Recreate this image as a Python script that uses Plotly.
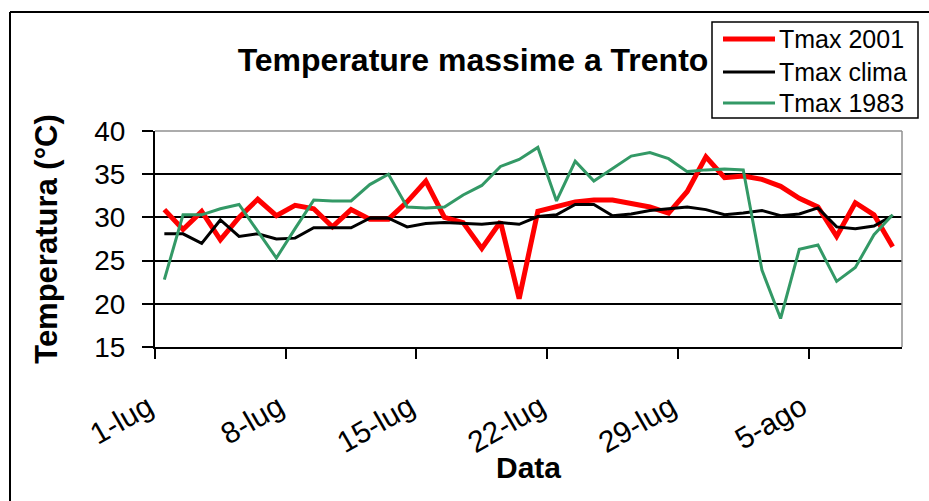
import plotly.graph_objects as go
import pandas as pd

dates = pd.date_range("2001-07-01", "2001-08-09", freq="D")

tmax_2001 = [30.9, 28.6, 30.7, 27.4, 30.0, 32.1, 30.2, 31.4, 31.0, 28.9,
             30.9, 29.8, 29.8, 31.8, 34.2, 30.0, 29.4, 26.4, 29.5, 20.6,
             30.7, 31.2, 31.8, 32.0, 32.0, 31.6, 31.2, 30.5, 33.0, 37.0,
             34.6, 34.8, 34.4, 33.6, 32.2, 31.2, 27.8, 31.7, 30.3, 26.6]
tmax_clima = [28.1, 28.1, 27.0, 29.7, 27.8, 28.1, 27.5, 27.6, 28.8, 28.8,
              28.8, 29.9, 29.9, 28.9, 29.3, 29.4, 29.3, 29.2, 29.4, 29.2,
              30.1, 30.3, 31.5, 31.5, 30.2, 30.4, 30.8, 31.0, 31.2, 30.9,
              30.3, 30.5, 30.8, 30.2, 30.4, 31.1, 28.9, 28.7, 29.0, 30.2]
tmax_1983 = [22.8, 30.3, 30.3, 31.0, 31.5, 28.4, 25.3, 28.7, 32.0, 31.9,
             31.9, 33.8, 35.0, 31.2, 31.1, 31.2, 32.6, 33.7, 35.9, 36.7,
             38.1, 31.9, 36.5, 34.2, 35.6, 37.1, 37.5, 36.8, 35.3, 35.5,
             35.6, 35.5, 23.9, 18.3, 26.3, 26.8, 22.6, 24.2, 28.0, 30.3]

series_names = ["Tmax 2001", "Tmax clima", "Tmax 1983"]
series_colors = ["#FF0000", "#000000", "#339966"]
series_widths = [5, 3, 3]

tick_dates = ["2001-07-01", "2001-07-08", "2001-07-15", "2001-07-22", "2001-07-29", "2001-08-05"]
tick_labels = ["1-lug", "8-lug", "15-lug", "22-lug", "29-lug", "5-ago"]

FONT = "Liberation Sans, Arial, sans-serif"
half = pd.Timedelta(hours=12)

L, R, T, B = 155, 27, 131, 154
W, H = 929, 501
pw, ph = W - L - R, H - T - B

def px_x(p):
    return (p - L) / pw

def px_y(p):
    return (H - B - p) / ph

fig = go.Figure()
for name, vals, col, lw in zip(series_names, [tmax_2001, tmax_clima, tmax_1983],
                               series_colors, series_widths):
    fig.add_trace(go.Scatter(x=dates, y=vals, mode="lines", name=name,
                             line=dict(color=col, width=lw), showlegend=False))

# legend box drawn as shapes + text (Excel-style layout)
shapes = [
    dict(type="line", xref="paper", yref="paper", x0=0, x1=1, y0=1, y1=1,
         line=dict(color="#909090", width=1.5)),
    dict(type="line", xref="paper", yref="paper", x0=1, x1=1, y0=0, y1=1,
         line=dict(color="#909090", width=1.5)),
    dict(type="line", xref="paper", yref="paper", x0=px_x(10), x1=px_x(10),
         y0=px_y(12), y1=px_y(520), line=dict(color="black", width=2)),
    dict(type="line", xref="paper", yref="paper", x0=px_x(10), x1=px_x(940),
         y0=px_y(12), y1=px_y(12), line=dict(color="black", width=2)),
    dict(type="rect", xref="paper", yref="paper", x0=px_x(712), x1=px_x(918),
         y0=px_y(118), y1=px_y(22), fillcolor="white",
         line=dict(color="black", width=1.5)),
]
annotations = []
row_y = [39, 72, 103]
for name, col, lw, ry in zip(series_names, series_colors, series_widths, row_y):
    shapes.append(dict(type="line", xref="paper", yref="paper", x0=px_x(723), x1=px_x(775),
                       y0=px_y(ry), y1=px_y(ry), line=dict(color=col, width=lw)))
    annotations.append(dict(text=name, xref="paper", yref="paper", x=px_x(777), y=px_y(ry),
                            xanchor="left", yanchor="middle", showarrow=False,
                            font=dict(size=25, color="black", family=FONT)))

annotations.append(dict(text="<b>Data</b>", xref="paper", yref="paper", x=0.5, y=px_y(467),
                        xanchor="center", yanchor="middle", showarrow=False,
                        font=dict(size=30, color="black", family=FONT)))

fig.update_layout(
    width=W, height=H,
    margin=dict(l=L, r=R, t=T, b=B, pad=0, autoexpand=False),
    paper_bgcolor="white", plot_bgcolor="white",
    font=dict(family=FONT, color="black"),
    title=dict(text="<b>Temperature massime a Trento</b>", x=473 / W, xanchor="center",
               y=1 - 60 / H, yanchor="middle", font=dict(size=32, color="black")),
    showlegend=False,
    xaxis=dict(
        type="date", automargin=False,
        range=[pd.Timestamp("2001-07-01") - half, pd.Timestamp("2001-08-09") + half],
        tickvals=[pd.Timestamp(d) - half for d in tick_dates],
        ticktext=tick_labels,
        tickangle=-30, tickfont=dict(size=30, color="black"),
        ticks="outside", ticklen=10, tickcolor="black", tickwidth=1.5,
        ticklabelstandoff=19, ticklabelshift=-7,
        showline=True, linecolor="black", linewidth=2,
        showgrid=False, zeroline=False,
    ),
    yaxis=dict(
        automargin=False,
        range=[15, 40], tickvals=[15, 20, 25, 30, 35, 40],
        tickfont=dict(size=28, color="black"),
        ticks="outside", ticklen=11, tickcolor="black", tickwidth=1.5,
        ticklabelstandoff=11,
        showline=True, linecolor="black", linewidth=2,
        showgrid=True, gridcolor="black", gridwidth=1.5, zeroline=False,
        title=dict(text="<b>Temperatura (°C)</b>", font=dict(size=31, color="black"), standoff=27),
    ),
    shapes=shapes,
    annotations=annotations,
)

fig.write_html("out.html", config={"displayModeBar": False},
               post_script="document.body.style.margin='0';")
